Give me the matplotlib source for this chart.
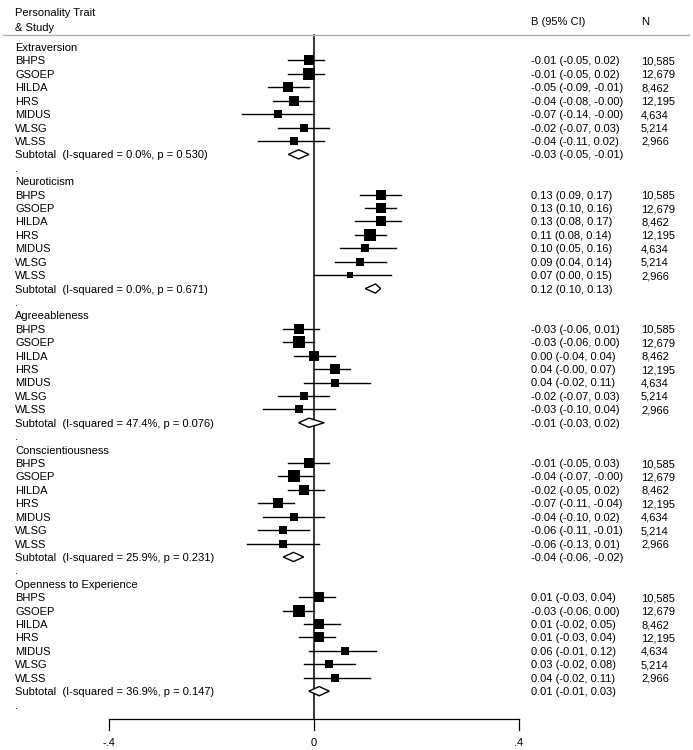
import numpy as np
import matplotlib
matplotlib.use("Agg")
import matplotlib.pyplot as plt
from matplotlib.patches import Polygon

plt.rcParams["font.family"] = ["Liberation Sans", "DejaVu Sans"]

TRAITS = ["Extraversion", "Neuroticism", "Agreeableness", "Conscientiousness",
          "Openness to Experience"]
STUDIES = ["BHPS", "GSOEP", "HILDA", "HRS", "MIDUS", "WLSG", "WLSS"]
N = ["10,585", "12,679", "8,462", "12,195", "4,634", "5,214", "2,966"]

# study estimates per trait: (B, lower, upper)
EST = [
    [-0.01, -0.01, -0.05, -0.04, -0.07, -0.02, -0.04],
    [0.13, 0.13, 0.13, 0.11, 0.10, 0.09, 0.07],
    [-0.03, -0.03, 0.00, 0.04, 0.04, -0.02, -0.03],
    [-0.01, -0.04, -0.02, -0.07, -0.04, -0.06, -0.06],
    [0.01, -0.03, 0.01, 0.01, 0.06, 0.03, 0.04],
]
LO = [
    [-0.05, -0.05, -0.09, -0.08, -0.14, -0.07, -0.11],
    [0.09, 0.10, 0.08, 0.08, 0.05, 0.04, 0.00],
    [-0.06, -0.06, -0.04, -0.00, -0.02, -0.07, -0.10],
    [-0.05, -0.07, -0.05, -0.11, -0.10, -0.11, -0.13],
    [-0.03, -0.06, -0.02, -0.03, -0.01, -0.02, -0.02],
]
HI = [
    [0.02, 0.02, -0.01, -0.00, -0.00, 0.03, 0.02],
    [0.17, 0.16, 0.17, 0.14, 0.16, 0.14, 0.15],
    [0.01, 0.00, 0.04, 0.07, 0.11, 0.03, 0.04],
    [0.03, -0.00, 0.02, -0.04, 0.02, -0.01, 0.01],
    [0.04, 0.00, 0.05, 0.04, 0.12, 0.08, 0.11],
]
# approximate study weights (%)
WEIGHT = [
    [17.1, 21.6, 15.3, 16.3, 8.5, 10.1, 8.5],
    [15.3, 18.9, 13.7, 22.9, 9.3, 10.6, 6.8],
    [15.3, 20.8, 18.9, 15.3, 10.6, 10.6, 9.3],
    [17.1, 20.8, 17.1, 18.9, 9.3, 10.6, 8.0],
    [15.3, 20.8, 15.3, 17.1, 8.0, 12.1, 8.0],
]
# subtotals
SUB_EST = [-0.03, 0.12, -0.01, -0.04, 0.01]
SUB_LO = [-0.05, 0.10, -0.03, -0.06, -0.01]
SUB_HI = [-0.01, 0.13, 0.02, -0.02, 0.03]
I2 = ["0.0%", "0.0%", "47.4%", "25.9%", "36.9%"]
PVAL = ["0.530", "0.671", "0.076", "0.231", "0.147"]

XTICKS = [-0.4, 0, 0.4]
XTICKLABELS = ["-.4", "0", ".4"]


def ci_text(b, lo, hi):
    def f(v):
        s = f"{v:.2f}"
        if s == "0.00" and np.signbit(v):
            s = "-0.00"
        return s
    return f"{f(b)} ({f(lo)}, {f(hi)})"


W, H = 693, 750
fig = plt.figure(figsize=(W / 100, H / 100), dpi=100)
ax = fig.add_axes([0, 0, 1, 1])
ax.set_xlim((0 - 314) / 512.5, (W - 314) / 512.5)
ax.set_ylim(H, 0)
ax.axis("off")
tx = ax.get_yaxis_transform()  # x in axes fraction, y in pixels

FS = 8.0
ROW = 13.42
TOP = 47
X_LAB, X_CI, X_N = 15 / W, 531 / W, 641 / W
BASE = 4.0  # baseline offset below row centre, px


def txt(x, y, s, **kw):
    ax.text(x, y + BASE, s, transform=tx, fontsize=FS, va="baseline", **kw)


# header
txt(X_LAB, 12, "Personality Trait")
txt(X_LAB, 27, "& Study")
txt(X_CI, 21, "B (95% CI)")
txt(X_N, 21, "N")
ax.plot([3 / W, 689 / W], [35, 35], transform=tx, color="#b0b0b0", lw=1.0)

# zero line and axis
ax.plot([0, 0], [35, 719], color="black", lw=1.1, zorder=1)
ax.plot([XTICKS[0], XTICKS[-1]], [719, 719], color="black", lw=0.9)
for t, lab in zip(XTICKS, XTICKLABELS):
    ax.plot([t, t], [719, 730], color="black", lw=0.9)
    ax.text(t, 742 + BASE, lab, fontsize=FS, ha="center", va="baseline")

k = 2.5 * 72 / 100  # box side px per sqrt(weight) -> points
for g, trait in enumerate(TRAITS):
    y0 = TOP + g * 10 * ROW
    txt(X_LAB, y0, trait)
    for i, st in enumerate(STUDIES):
        y = y0 + (i + 1) * ROW
        b, lo, hi = EST[g][i], LO[g][i], HI[g][i]
        txt(X_LAB, y, st)
        ax.plot([lo, hi], [y, y], color="black", lw=1.0, zorder=2)
        ax.plot([b], [y], marker="s", ms=k * np.sqrt(WEIGHT[g][i]),
                color="black", mec="black", mew=0, zorder=3)
        txt(X_CI, y, ci_text(b, lo, hi))
        txt(X_N, y, N[i])
    ys = y0 + 8 * ROW
    txt(X_LAB, ys, f"Subtotal  (I-squared = {I2[g]}, p = {PVAL[g]})")
    hh = 4.6
    ax.add_patch(Polygon([(SUB_LO[g], ys), (SUB_EST[g], ys - hh),
                          (SUB_HI[g], ys), (SUB_EST[g], ys + hh)],
                         closed=True, facecolor="white", edgecolor="black",
                         lw=1.0, zorder=3))
    txt(X_CI, ys, ci_text(SUB_EST[g], SUB_LO[g], SUB_HI[g]))
    txt(X_LAB, y0 + 9 * ROW, ".")

fig.savefig("out.png", dpi=100)
